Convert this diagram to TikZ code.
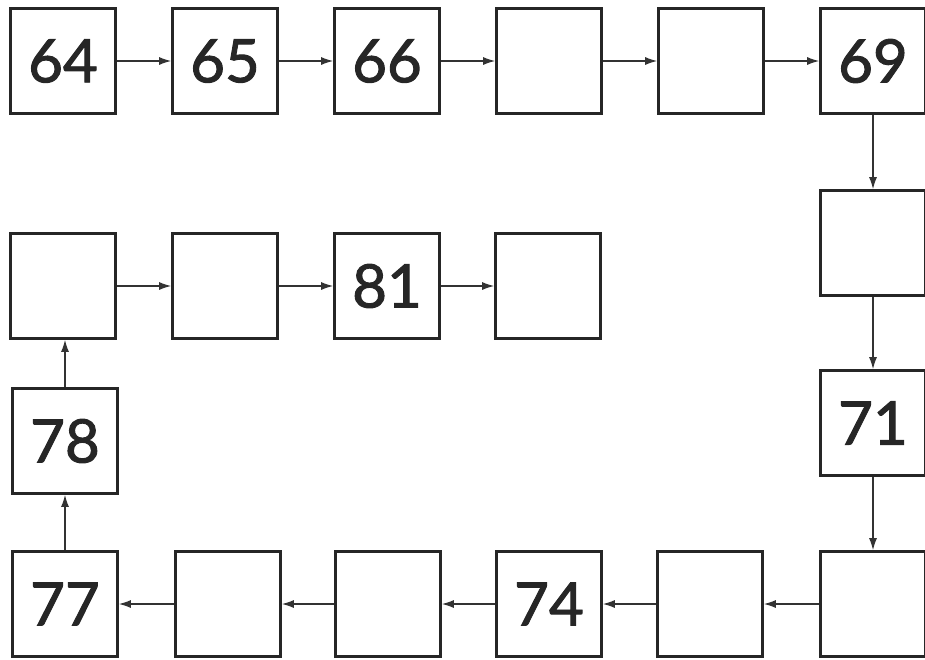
\documentclass[tikz,border=0pt]{standalone}
\usepackage{fontspec}
\setmainfont{Lato}
\newfontfamily\numfont{Lato}[FakeBold=1.6]
\usetikzlibrary{arrows.meta}
\begin{document}
\begin{tikzpicture}[x=1pt,y=-1pt,
  box/.style={draw=black!85,line width=2.6pt,minimum width=105pt,minimum height=105pt,inner sep=0pt,font=\numfont\fontsize{60}{60}\selectfont,text=black!85},
  arr/.style={draw=black!80,line width=1.3pt,-{Latex[length=12pt,width=8pt]}}]
\path[use as bounding box] (0,0) rectangle (925,659);
\clip (0,0) rectangle (925,659);
\node[box] (n64) at (63,61) {64};
\node[box] (n65) at (225,61) {65};
\node[box] (n66) at (387,61) {66};
\node[box] (n67) at (549,61) {};
\node[box] (n68) at (711,61) {};
\node[box] (n69) at (873,61) {69};
\node[box] (n70) at (873,243) {};
\node[box] (n71) at (873,423) {71};
\node[box] (n72) at (873,604) {};
\node[box] (n73) at (710,604) {};
\node[box] (n74) at (549,604) {74};
\node[box] (n75) at (388,604) {};
\node[box] (n76) at (228,604) {};
\node[box] (n77) at (65,604) {77};
\node[box] (n78) at (65,441) {78};
\node[box] (n79) at (63,286) {};
\node[box] (n80) at (225,286) {};
\node[box] (n81) at (387,286) {81};
\node[box] (n82) at (548,286) {};
\draw[arr] (n64) -- (n65);
\draw[arr] (n65) -- (n66);
\draw[arr] (n66) -- (n67);
\draw[arr] (n67) -- (n68);
\draw[arr] (n68) -- (n69);
\draw[arr] (n69) -- (n70);
\draw[arr] (n70) -- (n71);
\draw[arr] (n71) -- (n72);
\draw[arr] (n72) -- (n73);
\draw[arr] (n73) -- (n74);
\draw[arr] (n74) -- (n75);
\draw[arr] (n75) -- (n76);
\draw[arr] (n76) -- (n77);
\draw[arr] (n77) -- (n78);
\draw[arr] (n78.north) -- (n79.south -| n78.north);
\draw[arr] (n79) -- (n80);
\draw[arr] (n80) -- (n81);
\draw[arr] (n81) -- (n82);
\end{tikzpicture}
\end{document}
